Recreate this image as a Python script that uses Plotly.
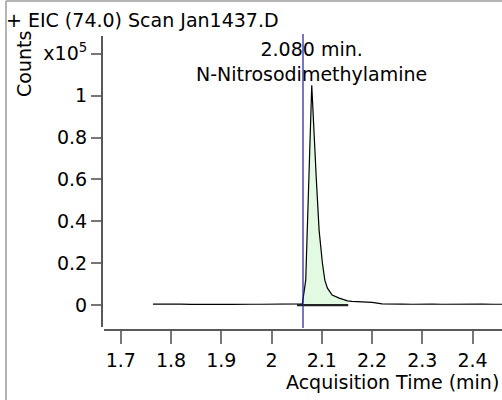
import plotly.graph_objects as go

# ---- data (counts in units of 1e5) ----
times = [1.764, 1.78, 1.80, 1.82, 1.84, 1.86, 1.88, 1.90, 1.92, 1.94, 1.96, 1.98,
         2.00, 2.02, 2.04, 2.052, 2.0613, 2.068, 2.0746, 2.080, 2.0892, 2.0946,
         2.1012, 2.106, 2.1112, 2.1206, 2.1346, 2.1512, 2.16, 2.18, 2.20, 2.22,
         2.24, 2.26, 2.28, 2.30, 2.32, 2.34, 2.36, 2.38, 2.40, 2.42, 2.44, 2.46]
counts = [0.005, 0.006, 0.004, 0.005, 0.003, 0.004, 0.005, 0.004, 0.003, 0.005, 0.004, 0.004,
          0.005, 0.006, 0.004, 0.005, 0.006, 0.119, 0.597, 1.05, 0.597, 0.358,
          0.201, 0.119, 0.081, 0.048, 0.033, 0.020, 0.018, 0.016, 0.013, 0.006,
          0.004, 0.005, 0.004, 0.006, 0.005, 0.004, 0.005, 0.006, 0.004, 0.005, 0.004, 0.004]

peak_start, peak_end = 2.0613, 2.1512
integ_start, integ_end = 2.0506, 2.1526
marker_time = 2.0626
peak_label_time = 2.080
peak_label = "2.080 min.<br>N-Nitrosodimethylamine"
title_text = "+ EIC (74.0) Scan Jan1437.D"

x_ticks = [1.7, 1.8, 1.9, 2.0, 2.1, 2.2, 2.3, 2.4]
x_ticktext = ["1.7", "1.8", "1.9", "2", "2.1", "2.2", "2.3", "2.4"]
y_ticks = [0, 0.2, 0.4, 0.6, 0.8, 1.0, 1.2]
y_ticktext = ["0", "0.2", "0.4", "0.6", "0.8", "1", "x10<sup>5</sup>"]

FONT = "DejaVu Sans"
FS = 19

# ---- geometry ----
W, H = 502, 400
ML, MR, MT, MB = 102, 0, 36, 70
PW, PH = W - ML - MR, H - MT - MB
def px(xp):
    return (xp - ML) / PW
def py(yp):
    return (H - MB - yp) / PH

xr = [1.6626, 2.4586]
yr = [-0.119, 1.285]

fig = go.Figure()

# shaded integrated area
seg = [(t, c) for t, c in zip(times, counts) if peak_start <= t <= peak_end]
fx = [t for t, _ in seg] + [peak_end, peak_start]
fy = [c for _, c in seg] + [0.0, 0.0]
fig.add_trace(go.Scatter(x=fx, y=fy, fill="toself", fillcolor="#e2f9e2",
                         line=dict(width=0), mode="lines", hoverinfo="skip",
                         showlegend=False))
# chromatogram
fig.add_trace(go.Scatter(x=times, y=counts, mode="lines",
                         line=dict(color="black", width=1.2), showlegend=False))
# integration baseline
fig.add_trace(go.Scatter(x=[integ_start, integ_end], y=[0.0, 0.0], mode="lines",
                         line=dict(color="#222", width=2.2), showlegend=False))

shapes = [
    # retention marker line
    dict(type="line", xref="x", yref="paper", x0=marker_time, x1=marker_time,
         y0=py(328), y1=py(34), line=dict(color="#1c1ca8", width=1.2)),
    # axis lines
    dict(type="line", xref="paper", yref="paper", x0=0, x1=0, y0=py(327), y1=1.0,
         line=dict(color="#222", width=1.5)),
    dict(type="line", xref="paper", yref="paper", x0=px(104), x1=1.0, y0=0, y1=0,
         line=dict(color="#222", width=1.5)),
    # outer frame
    dict(type="line", xref="paper", yref="paper", x0=px(6), x1=px(6), y0=py(400), y1=py(1),
         line=dict(color="#b4b4b4", width=2)),
    dict(type="line", xref="paper", yref="paper", x0=px(6), x1=px(502), y0=py(1), y1=py(1),
         line=dict(color="#b4b4b4", width=2)),
]

annotations = [
    dict(text=title_text, xref="paper", yref="paper", x=px(4), y=py(20),
         xanchor="left", yanchor="middle", showarrow=False,
         font=dict(family=FONT, size=FS, color="black")),
    dict(text="Counts", xref="paper", yref="paper", x=px(24), y=py(64),
         xanchor="center", yanchor="middle", textangle=-90, showarrow=False,
         font=dict(family=FONT, size=FS, color="black")),
    dict(text="Acquisition Time (min)", xref="paper", yref="paper", x=px(501), y=py(382),
         xanchor="right", yanchor="middle", showarrow=False,
         font=dict(family=FONT, size=FS, color="black")),
    dict(text=peak_label, xref="x", yref="paper", x=peak_label_time, y=py(87),
         xanchor="center", yanchor="bottom", showarrow=False,
         font=dict(family=FONT, size=FS, color="black")),
]

fig.update_layout(
    width=W, height=H,
    margin=dict(l=ML, r=MR, t=MT, b=MB),
    paper_bgcolor="white", plot_bgcolor="white",
    font=dict(family=FONT, size=FS, color="black"),
    shapes=shapes, annotations=annotations,
    xaxis=dict(range=xr, tickvals=x_ticks, ticktext=x_ticktext, ticks="outside",
               ticklen=13, tickwidth=2, tickcolor="#777", showgrid=False,
               zeroline=False, showline=False),
    yaxis=dict(range=yr, tickvals=y_ticks, ticktext=y_ticktext, ticks="outside",
               ticklen=10, tickwidth=2, tickcolor="#777", showgrid=False,
               zeroline=False, showline=False),
)

fig.write_html("out.html",
               config={"displayModeBar": False},
               post_script="document.body.style.margin='0px';"
                           "document.body.style.overflow='hidden';")
